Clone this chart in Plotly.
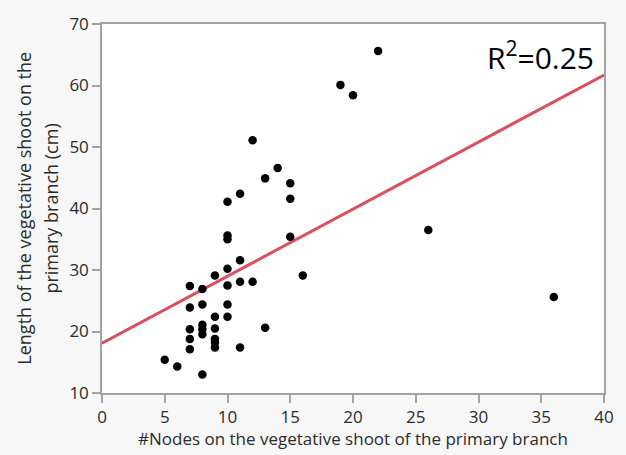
import plotly.graph_objects as go

# Number of nodes on the vegetative shoot of the primary branch
nodes = [5, 6,
         7, 7, 7, 7, 7,
         8, 8, 8, 8, 8, 8,
         9, 9, 9, 9, 9, 9,
         10, 10, 10, 10, 10, 10, 10,
         11, 11, 11, 11,
         12, 12,
         13, 13,
         14,
         15, 15, 15,
         16, 19, 20, 22, 26, 36]

# Length of the vegetative shoot on the primary branch (cm)
length_cm = [15.4, 14.3,
             27.4, 23.9, 20.35, 18.8, 17.1,
             26.9, 24.4, 21.1, 20.35, 19.55, 13.0,
             29.1, 22.4, 20.5, 18.8, 18.2, 17.4,
             41.1, 35.6, 35.0, 30.2, 27.5, 24.4, 22.4,
             42.4, 31.6, 28.1, 17.4,
             51.1, 28.1,
             44.9, 20.6,
             46.6,
             44.1, 41.6, 35.4,
             29.1, 60.1, 58.4, 65.6, 36.5, 25.6]

# Linear fit
fit_intercept = 18.1
fit_slope = 1.09
fit_x = [0, 40]
fit_y = [fit_intercept + fit_slope * v for v in fit_x]
r_squared = 0.25

x_ticks = [0, 5, 10, 15, 20, 25, 30, 35, 40]
y_ticks = [10, 20, 30, 40, 50, 60, 70]

x_title = "#Nodes on the vegetative shoot of the primary branch"
y_title_lines = ["Length of the vegetative shoot on the", "primary branch (cm)"]

font_family = "Open Sans, Noto Sans, sans-serif"
axis_color = "#a3a3a3"
text_color = "#2b2b2b"

fig = go.Figure()

fig.add_trace(go.Scatter(
    x=fit_x, y=fit_y, mode="lines",
    line=dict(color="#d9505e", width=3),
    hoverinfo="skip", showlegend=False,
))

fig.add_trace(go.Scatter(
    x=nodes, y=length_cm, mode="markers",
    marker=dict(color="black", size=8.5, line=dict(width=0)),
    showlegend=False,
))

axis_common = dict(
    showline=True, mirror=True, linecolor=axis_color, linewidth=1.5,
    ticks="outside", ticklen=8, tickwidth=1.5, tickcolor=axis_color,
    showgrid=False, zeroline=False,
    tickfont=dict(family=font_family, size=17, color=text_color),
)

fig.update_xaxes(range=[0, 40], tickvals=x_ticks, **axis_common)
fig.update_yaxes(range=[10, 70], tickvals=y_ticks, **axis_common)

fig.add_annotation(
    text=x_title,
    xref="paper", yref="paper", x=0.5, y=-0.124,
    xanchor="center", yanchor="middle", showarrow=False,
    font=dict(family=font_family, size=17, color=text_color),
)

# Two-line vertical y-axis title, one annotation per line
for line_text, x_pos in zip(y_title_lines, [-0.157, -0.1034]):
    fig.add_annotation(
        text=line_text,
        xref="paper", yref="paper", x=x_pos, y=0.5,
        xanchor="center", yanchor="middle", textangle=-90, showarrow=False,
        font=dict(family=font_family, size=18, color=text_color),
    )

fig.add_annotation(
    text=f"R<sup>2</sup>={r_squared:.2f}",
    xref="x", yref="y", x=30.5, y=64.8,
    xanchor="left", yanchor="middle", showarrow=False,
    font=dict(family=font_family, size=30, color="black"),
)

fig.update_layout(
    width=626, height=455,
    margin=dict(l=102, r=21, t=15, b=62),
    paper_bgcolor="#f7f7f7",
    plot_bgcolor="white",
)

fig.write_html("out.html")
